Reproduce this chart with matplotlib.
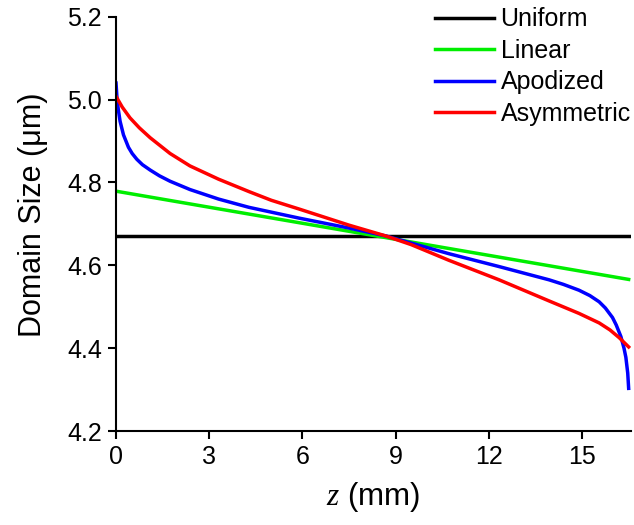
import matplotlib
matplotlib.use("Agg")
import matplotlib.pyplot as plt

plt.rcParams['font.family'] = ['Liberation Sans', 'DejaVu Sans']
plt.rcParams['mathtext.fontset'] = 'custom'
plt.rcParams['mathtext.it'] = 'Liberation Serif:italic'
plt.rcParams['mathtext.rm'] = 'Liberation Sans'

# values (z in mm, domain size in um)
z_uniform = [0.0, 16.5]
d_uniform = [4.672, 4.672]

z_linear = [0.0, 16.5]
d_linear = [4.779, 4.566]

z_apod = [0.0, 0.03, 0.07, 0.13, 0.24, 0.40, 0.52, 0.67, 0.85, 1.10, 1.40,
          1.74, 2.38, 3.3, 4.28, 5.89, 7.5, 8.68, 10.72, 12.33, 13.94,
          14.4, 14.9, 15.25, 15.55, 15.75, 15.98, 16.1, 16.25, 16.35, 16.41,
          16.47, 16.5]
d_apod = [5.040, 5.005, 4.978, 4.948, 4.915, 4.885, 4.870, 4.856, 4.843,
          4.830, 4.816, 4.803, 4.783, 4.760, 4.740, 4.714, 4.690, 4.671,
          4.628, 4.597, 4.565, 4.554, 4.540, 4.527, 4.512, 4.497, 4.474,
          4.456, 4.428, 4.400, 4.378, 4.340, 4.303]

z_asym = [0.0, 0.2, 0.45, 0.75, 1.10, 1.74, 2.38, 3.3, 4.28, 5.0, 5.89,
          7.5, 8.68, 9.5, 10.72, 12.33, 13.94, 14.9, 15.55, 15.9, 16.2,
          16.5]
d_asym = [5.008, 4.982, 4.956, 4.932, 4.908, 4.870, 4.840, 4.808, 4.778,
          4.757, 4.736, 4.697, 4.671, 4.650, 4.612, 4.565, 4.514, 4.484,
          4.461, 4.444, 4.425, 4.403]

fig = plt.figure(figsize=(6.34, 5.25), dpi=100)
ax = fig.add_axes([0.183, 0.179, 0.812, 0.789])

ax.plot(z_uniform, d_uniform, color='black', lw=2.5, label='Uniform')
ax.plot(z_linear, d_linear, color='#00ee00', lw=2.5, label='Linear')
ax.plot(z_apod, d_apod, color='#0000ff', lw=2.5, label='Apodized')
ax.plot(z_asym, d_asym, color='#ff0000', lw=2.5, label='Asymmetric')

ax.set_xlim(0, 16.57)
ax.set_ylim(4.2, 5.2)
ax.set_xticks([0, 3, 6, 9, 12, 15])
ax.set_yticks([4.2, 4.4, 4.6, 4.8, 5.0, 5.2])
ax.set_yticklabels(['4.2', '4.4', '4.6', '4.8', '5.0', '5.2'])

for s in ['top', 'right']:
    ax.spines[s].set_visible(False)
for s in ['left', 'bottom']:
    ax.spines[s].set_linewidth(1.5)
ax.tick_params(direction='out', length=6, width=1.5, labelsize=18, pad=4)

ax.set_xlabel(r'$z$ (mm)', fontsize=22.5, labelpad=8)
ax.set_ylabel('Domain Size (\u03bcm)', fontsize=22)
ax.yaxis.set_label_coords(-0.133, 0.522)

ax.legend(loc='upper right', frameon=False, fontsize=18, handlelength=2.36,
          handletextpad=0.28, labelspacing=0.3, borderpad=0.0,
          borderaxespad=0.0, bbox_to_anchor=(1.0, 1.023))

fig.savefig('out.png', dpi=100)
